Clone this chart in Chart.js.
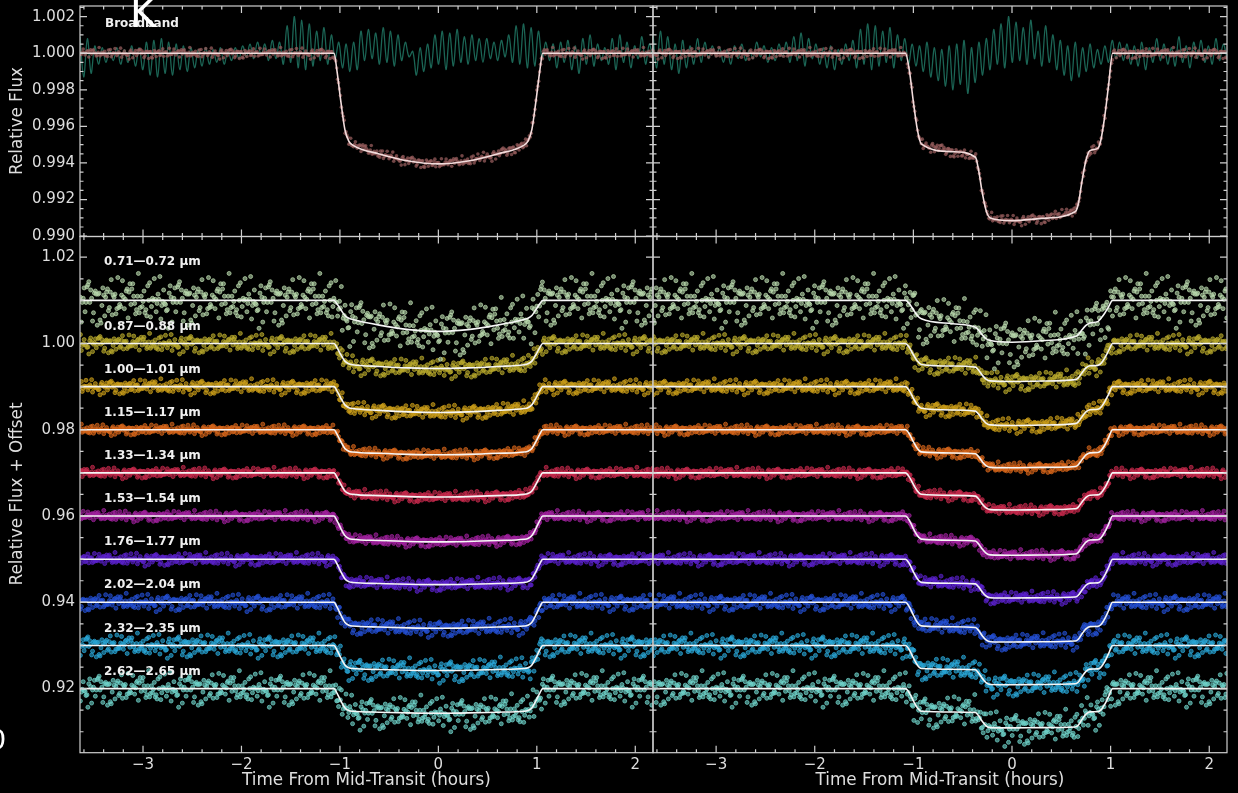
<!DOCTYPE html>
<html>
<head>
<meta charset="utf-8">
<script src="https://cdn.jsdelivr.net/npm/chart.js@4.4.1/dist/chart.umd.min.js"></script>
<style>
  html, body { margin: 0; padding: 0; background: #000; }
  #wrap { position: relative; width: 1238px; height: 793px; overflow: hidden; background: #000; }
  #wrap canvas { position: absolute; left: 0; top: 0; }
</style>
</head>
<body>
<div id="wrap">
  <canvas id="bbLeft" width="1238" height="793"></canvas>
  <canvas id="bbRight" width="1238" height="793"></canvas>
  <canvas id="specLeft" width="1238" height="793"></canvas>
  <canvas id="specRight" width="1238" height="793"></canvas>
</div>
<script>
// ---- data ----
const X_MIN = -3.64, X_MAX = 2.18;
const xTicks = [-3, -2, -1, 0, 1, 2];
const yTopTicks = [0.990, 0.992, 0.994, 0.996, 0.998, 1.000, 1.002];
const yBotTicks = [0.92, 0.94, 0.96, 0.98, 1.00, 1.02];

const channels = ["0.71\u20140.72 \u00b5m", "0.87\u20140.88 \u00b5m", "1.00\u20141.01 \u00b5m", "1.15\u20141.17 \u00b5m",
  "1.33\u20141.34 \u00b5m", "1.53\u20141.54 \u00b5m", "1.76\u20141.77 \u00b5m", "2.02\u20142.04 \u00b5m",
  "2.32\u20142.35 \u00b5m", "2.62\u20142.65 \u00b5m"];
const offsets = [1.01, 1.00, 0.99, 0.98, 0.97, 0.96, 0.95, 0.94, 0.93, 0.92];
// transit depth of the big planet at mid-transit, limb edge fraction, depth of the second planet, scatter
const depthA = [0.0072, 0.0058, 0.0060, 0.0058, 0.0056, 0.0060, 0.0059, 0.0060, 0.0058, 0.0057];
const edgeFrac = [0.55, 0.82, 0.82, 0.87, 0.87, 0.88, 0.90, 0.90, 0.91, 0.91];
const depthB = [0.0025, 0.0030, 0.0030, 0.0030, 0.0030, 0.0031, 0.0031, 0.0032, 0.0033, 0.0034];
const noise = [0.0024, 0.0009, 0.0007, 0.0005, 0.0005, 0.0005, 0.0006, 0.0008, 0.0011, 0.0016];

const bbDepthA = 0.00605, bbEdge = 0.80, bbDepthB = 0.0031, bbNoise = 0.00012;

// left visit: single transit
const lTimes = [X_MIN, -1.06, -1.03, -0.99, -0.95, -0.91, -0.87, -0.6, -0.3, 0, 0.3, 0.6, 0.87, 0.91, 0.95, 0.99, 1.03, 1.06, X_MAX];
const lIng   = [0, 0, 0.2, 0.55, 0.85, 0.97, 1, 1, 1, 1, 1, 1, 1, 0.97, 0.85, 0.55, 0.2, 0, 0];
const lLimb  = [0, 0, 0, 0, 0.05, 0.1, 0.15, 0.55, 0.87, 1, 0.87, 0.55, 0.15, 0.1, 0.05, 0, 0, 0, 0];

// right visit: two overlapping transits
const rTimes = [X_MIN, -1.08, -1.04, -1.0, -0.96, -0.92, -0.6, -0.37, -0.34, -0.3, -0.26, -0.22, 0, 0.3, 0.64, 0.67, 0.71, 0.75, 0.79, 0.87, 0.9, 0.94, 0.98, 1.02, X_MAX];
const rIngA  = [0, 0, 0.2, 0.55, 0.85, 1, 1, 1, 1, 1, 1, 1, 1, 1, 1, 1, 1, 1, 1, 1, 0.95, 0.7, 0.35, 0, 0];
const rLimbA = [0, 0, 0, 0, 0.05, 0.1, 0.45, 0.7, 0.74, 0.8, 0.84, 0.88, 1, 0.9, 0.6, 0.55, 0.5, 0.45, 0.4, 0.3, 0.15, 0.1, 0.05, 0, 0];
const rIngB  = [0, 0, 0, 0, 0, 0, 0, 0, 0.2, 0.6, 0.9, 1, 1, 1, 1, 0.9, 0.5, 0.15, 0, 0, 0, 0, 0, 0, 0];

// broadband residual trace (units of 1e-3)
const tealLeft = [0.9,-1.3,0.8,-1.1,0.4,-0.6,0.3,-0.5,0.2,-0.4,0.3,-0.6,0.2,-0.5,0.4,-0.7,0.3,
  -0.9,0.6,-1.2,0.7,-1.3,0.8,-1.1,0.6,-1.2,0.5,-0.9,0.4,-1.0,0.3,-0.8,0.2,-0.7,0.3,-0.6,
  0.2,-0.5,0.3,-0.6,0.1,-0.4,0.3,-0.3,0.4,-0.2,0.5,-0.3,0.6,-0.1,0.5,-0.4,0.7,-0.3,0.6,
  -0.6,1.5,-0.5,2.0,-0.8,1.8,-0.9,1.6,-0.7,1.2,-0.4,1.4,-0.6,1.0,-0.3,0.6,
  -0.8,0.5,-1.0,0.6,-0.9,1.2,-0.4,1.3,-0.3,1.1,-0.6,1.4,-0.5,1.2,-0.7,1.0,-0.4,0.6,-0.2,
  0.1,-1.2,0.3,-1.0,0.5,-0.8,1.0,-0.6,1.2,-0.9,1.1,-0.7,1.3,-0.5,0.9,-0.6,1.0,-0.4,0.8,
  -0.5,0.8,-0.3,0.6,-0.4,0.7,-0.2,1.0,-0.5,1.5,-0.6,1.6,-0.8,1.4,-0.7,1.2,-0.3,0.6,-0.4,
  0.5,-0.8,0.6,-0.5,0.7,-0.9,0.4,-1.1,0.8,-0.6,1.0,-0.7,0.5,-0.4,0.3,-0.6,0.8,-0.9,1.0,-0.5,0.6,-0.8,0.4,-0.3,0.9,-0.6,0.5,-0.4];
const tealRight = [1.0,-0.8,1.2,-0.6,0.9,-0.9,0.5,-1.1,0.7,-0.8,0.4,-0.6,0.8,-0.5,0.6,-0.3,0.4,
  -0.2,0.3,-0.5,0.2,-0.6,0.4,-0.3,0.5,-0.4,0.2,-0.3,0.6,-0.2,0.4,-0.5,0.3,-0.4,0.5,-0.2,
  0.6,-0.5,0.9,-0.4,1.1,-0.7,0.8,-0.3,0.5,-0.6,0.3,-0.8,0.4,-0.9,0.2,-0.6,0.5,-0.4,0.7,
  -0.8,1.3,-0.6,1.6,-0.9,1.5,-0.7,1.2,-0.5,1.4,-0.8,1.0,-0.4,0.8,-0.6,0.5,
  -0.7,0.4,-1.0,0.6,-1.3,0.3,-1.5,0.2,-1.8,0.4,-2.0,0.5,-1.7,0.7,-2.2,0.3,-1.6,0.6,-1.2,
  0.8,-0.9,1.3,-0.6,1.6,-0.8,2.0,-0.5,1.7,-0.4,1.4,-0.6,1.8,-0.3,1.2,-0.7,1.5,-0.5,1.0,
  -0.9,0.7,-1.2,0.4,-1.5,0.6,-1.3,0.3,-1.0,0.5,-0.8,0.2,-0.6,0.4,-0.5,0.7,-0.3,0.6,-0.4,
  0.5,-0.6,0.4,-0.7,0.6,-0.9,0.3,-0.5,0.8,-0.4,0.5,-0.6,0.3,-0.7,0.9,-0.5,0.4,-0.8,0.6,-0.3,0.7,-0.5,0.4,-0.6,0.8,-0.4,0.5,-0.3];

// scatter residual pattern (in units of the channel scatter)
const resid = [0.3,-1.2,0.8,-0.4,1.6,-0.9,0.1,-2.1,0.7,1.1,-0.6,0.4,-1.5,2.3,-0.2,0.9,-1.0,0.5,-0.3,1.4,
  -1.8,0.2,0.6,-0.7,1.9,-1.3,0.0,-0.5,1.2,-2.4,0.8,0.3,-0.9,1.7,-0.1,-1.1,0.6,2.0,-0.8,0.4,
  -1.6,1.0,-0.2,0.7,-1.4,0.1,2.6,-0.6,-0.3,1.3,-1.9,0.5,0.9,-1.2,0.2,-0.4,1.5,-2.2,0.3,1.1,
  -0.7,0.0,-1.0,1.8,-0.5,0.6,-1.7,0.4,2.1,-0.9,-0.2,1.2,-1.3,0.8,-0.6,0.1,-2.7,1.0,0.5,-0.8,
  1.6,-0.1,-1.1,0.7,0.2,-1.5,2.2,-0.4,0.9,-0.3,1.4,-2.0,0.3,-0.7,1.1,-1.2,0.6];

// ---- styling ----
const colors = ['#b9d9ad', '#b8a92c', '#c99c19', '#d6661a', '#c62a4c', '#a0229e', '#5b22cc', '#2450d2', '#2aa6d6', '#70d3ca'];
const AXIS = '#cfcfcf', TXT = '#dedede';
Chart.defaults.font.family = "'DejaVu Sans', sans-serif";

function interp(ts, vs, t) {
  for (let k = 1; k < ts.length; k++) {
    if (t <= ts[k]) {
      const f = (t - ts[k - 1]) / (ts[k] - ts[k - 1]);
      return vs[k - 1] + f * (vs[k] - vs[k - 1]);
    }
  }
  return vs[vs.length - 1];
}
function leftDepth(t, D, e) {
  return D * interp(lTimes, lIng, t) * (e + (1 - e) * interp(lTimes, lLimb, t));
}
function rightDepth(t, DA, e, DB) {
  return DA * interp(rTimes, rIngA, t) * (e + (1 - e) * interp(rTimes, rLimbA, t)) + DB * interp(rTimes, rIngB, t);
}
function modelLeft(off, D, e) {
  return lTimes.map((t, k) => ({ x: t, y: off - D * lIng[k] * (e + (1 - e) * lLimb[k]) }));
}
function modelRight(off, DA, e, DB) {
  return rTimes.map((t, k) => ({ x: t, y: off - DA * rIngA[k] * (e + (1 - e) * rLimbA[k]) - DB * rIngB[k] }));
}
function scatter(fn, sigma, shift) {
  const pts = [];
  let i = 0;
  for (let t = X_MIN + 0.004; t <= X_MAX; t += 0.0095, i++) {
    pts.push({ x: t, y: fn(t) + resid[(i * 7 + shift) % resid.length] * sigma });
  }
  return pts;
}
function trace(vals) {
  return vals.map((v, i) => ({ x: X_MIN + i * (X_MAX - X_MIN) / (vals.length - 1), y: 1 + v * 0.001 }));
}
function rgba(hex, a) {
  const n = parseInt(hex.slice(1), 16);
  return `rgba(${n >> 16},${(n >> 8) & 255},${n & 255},${a})`;
}
function steps(a, b, n) {
  const out = [];
  for (let k = 0; k <= n; k++) out.push(a + (b - a) * k / n);
  return out;
}

const framePlugin = {
  id: 'frame',
  afterDatasetsDraw(chart, args, o) {
    const { ctx, chartArea: a } = chart;
    const sx = chart.scales.x, sy = chart.scales.y;
    ctx.save();
    ctx.strokeStyle = AXIS;
    ctx.lineWidth = 1.2;
    ctx.beginPath();
    const xm = (list, len) => list.forEach(v => {
      if (v < X_MIN || v > X_MAX) return;
      const p = sx.getPixelForValue(v);
      ctx.moveTo(p, a.bottom); ctx.lineTo(p, a.bottom - len);
      ctx.moveTo(p, a.top); ctx.lineTo(p, a.top + len);
    });
    const ym = (list, len) => list.forEach(v => {
      if (v < sy.min || v > sy.max) return;
      const p = sy.getPixelForValue(v);
      ctx.moveTo(a.left, p); ctx.lineTo(a.left + len, p);
      ctx.moveTo(a.right, p); ctx.lineTo(a.right - len, p);
    });
    xm(xTicks, 7); xm(o.xMinor, 3.5);
    ym(o.yMajor, 7); ym(o.yMinor, 3.5);
    ctx.stroke();
    ctx.strokeRect(a.left, a.top, a.right - a.left, a.bottom - a.top);
    ctx.restore();
  }
};

const notesPlugin = {
  id: 'notes',
  afterDraw(chart, args, o) {
    const ctx = chart.ctx;
    (o.items || []).forEach(it => {
      ctx.save();
      ctx.font = it.font;
      ctx.fillStyle = it.color || TXT;
      ctx.textAlign = it.align || 'left';
      ctx.textBaseline = it.baseline || 'middle';
      const y = it.yv !== undefined ? chart.scales.y.getPixelForValue(it.yv) + (it.dy || 0) : it.y;
      ctx.translate(it.x, y);
      if (it.rotate) ctx.rotate(it.rotate);
      ctx.fillText(it.text, 0, 0);
      ctx.restore();
    });
  }
};

const fmtX = v => (v < 0 ? '\u2212' + Math.abs(v) : String(v));
const xMinor = steps(-3.6, 2.2, 29);

function panel(id, box, cfg) {
  // the axis that shows labels gets a real box, so its labels are not clipped
  const yBox = cfg.yLabels ? box[0] : 0;
  const xBox = cfg.xLabels ? 793 - box[3] : 0;
  return new Chart(document.getElementById(id), {
    type: 'scatter',
    data: { datasets: cfg.datasets },
    options: {
      responsive: false,
      animation: false,
      events: [],
      layout: { padding: { left: box[0] - yBox, top: box[1], right: 1238 - box[2], bottom: 793 - box[3] - xBox } },
      plugins: {
        legend: { display: false },
        tooltip: { enabled: false },
        frame: { xMinor: xMinor, yMajor: cfg.yTicks, yMinor: cfg.yMinor },
        notes: { items: cfg.notes || [] }
      },
      scales: {
        x: {
          type: 'linear', min: X_MIN, max: X_MAX,
          grid: { display: false, drawTicks: false }, border: { display: false },
          ticks: { display: cfg.xLabels, color: TXT, font: { size: 15 }, padding: 3, callback: fmtX },
          afterBuildTicks: s => { s.ticks = xTicks.map(v => ({ value: v })); },
          afterFit: s => { s.height = xBox; s.paddingLeft = 0; s.paddingRight = 0; }
        },
        y: {
          type: 'linear', min: cfg.yMin, max: cfg.yMax,
          grid: { display: false, drawTicks: false }, border: { display: false },
          ticks: { display: cfg.yLabels, color: TXT, font: { size: 15 }, padding: 5, callback: cfg.yFmt },
          afterBuildTicks: s => { s.ticks = cfg.yTicks.map(v => ({ value: v })); },
          afterFit: s => { s.width = yBox; s.paddingTop = 0; s.paddingBottom = 0; }
        }
      }
    },
    plugins: [framePlugin, notesPlugin]
  });
}

// ---- broadband panels ----
function bbSets(model, fn, teal, shift) {
  return [
    { type: 'line', data: model, borderColor: '#f2dcdc', borderWidth: 1.6, pointRadius: 0, cubicInterpolationMode: 'monotone', order: 0 },
    { data: scatter(fn, bbNoise, shift), pointRadius: 1.8, backgroundColor: 'rgba(150,92,92,0.75)', borderWidth: 0, order: 1 },
    { type: 'line', data: trace(teal), borderColor: 'rgba(30,112,94,0.9)', borderWidth: 1.3, pointRadius: 0, tension: 0.35, order: 2 }
  ];
}
const topCfg = {
  yMin: 0.98998, yMax: 1.00258, yTicks: yTopTicks, yMinor: steps(0.990, 1.0025, 25),
  yFmt: v => v.toFixed(3), xLabels: false
};

panel('bbLeft', [80, 6, 653, 236.5], Object.assign({}, topCfg, {
  yLabels: true,
  datasets: bbSets(modelLeft(1, bbDepthA, bbEdge), t => 1 - leftDepth(t, bbDepthA, bbEdge), tealLeft, 3),
  notes: [
    { text: 'Broadband', x: 105, y: 24, font: 'bold 12px DejaVu Sans', color: '#f0f0f0' },
    { text: 'Relative Flux', x: 18, y: 121, font: '16.8px DejaVu Sans', align: 'center', rotate: -Math.PI / 2 },
    { text: 'K', x: 130, y: 27, font: '40px DejaVu Sans', color: '#ffffff', baseline: 'alphabetic' }
  ]
}));
panel('bbRight', [653, 6, 1227, 236.5], Object.assign({}, topCfg, {
  yLabels: false,
  datasets: bbSets(modelRight(1, bbDepthA, bbEdge, bbDepthB), t => 1 - rightDepth(t, bbDepthA, bbEdge, bbDepthB), tealRight, 41)
}));

// ---- spectroscopic panels ----
function specSets(side) {
  const sets = [];
  channels.forEach((c, i) => {
    const off = offsets[i];
    const model = side === 'L' ? modelLeft(off, depthA[i], edgeFrac[i]) : modelRight(off, depthA[i], edgeFrac[i], depthB[i]);
    const fn = side === 'L' ? t => off - leftDepth(t, depthA[i], edgeFrac[i]) : t => off - rightDepth(t, depthA[i], edgeFrac[i], depthB[i]);
    sets.push({ type: 'line', data: model, borderColor: '#f6f6f6', borderWidth: 1.6, pointRadius: 0, cubicInterpolationMode: 'monotone', order: 0 });
    sets.push({ data: scatter(fn, noise[i], i * 13 + (side === 'L' ? 0 : 50)), pointRadius: 2, backgroundColor: rgba(colors[i], 0.6),
      borderColor: rgba(colors[i], 0.9), borderWidth: 0.8, order: 1 });
  });
  return sets;
}
const botCfg = {
  yMin: 0.90514, yMax: 1.0248, yTicks: yBotTicks, yMinor: steps(0.905, 1.025, 24),
  yFmt: v => v.toFixed(2), xLabels: true
};
const chanNotes = channels.map((c, i) => ({ text: c, x: 104, yv: offsets[i], dy: i === 0 ? -38 : -17, font: 'bold 12px DejaVu Sans', color: '#f0f0f0' }));

panel('specLeft', [80, 236.5, 653, 752.7], Object.assign({}, botCfg, {
  yLabels: true,
  datasets: specSets('L'),
  notes: chanNotes.concat([
    { text: 'Relative Flux + Offset', x: 18, y: 494, font: '16.8px DejaVu Sans', align: 'center', rotate: -Math.PI / 2 },
    { text: 'Time From Mid-Transit (hours)', x: 366.5, y: 781, font: '16.8px DejaVu Sans', align: 'center' },
    { text: '0', x: -11, y: 749, font: '27px DejaVu Sans', color: '#ffffff', baseline: 'alphabetic' }
  ])
}));
panel('specRight', [653, 236.5, 1227, 752.7], Object.assign({}, botCfg, {
  yLabels: false,
  datasets: specSets('R'),
  notes: [
    { text: 'Time From Mid-Transit (hours)', x: 940, y: 781, font: '16.8px DejaVu Sans', align: 'center' }
  ]
}));
</script>
</body>
</html>
